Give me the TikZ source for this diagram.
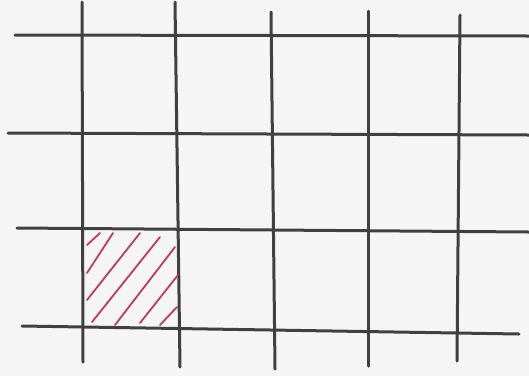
\documentclass[tikz,border=0pt]{standalone}
\begin{document}
\begin{tikzpicture}[x=1pt,y=-1pt,
  gridline/.style={line width=3pt,draw=black!75,line cap=round},
  hatchline/.style={line width=1.8pt,draw={rgb,255:red,190;green,60;blue,85},line cap=round}]
\fill[white!96!black] (0,0) rectangle (529,376);
\useasboundingbox (0,0) rectangle (529,376);
% horizontal lines
\draw[gridline] (15,35) -- (529,36);
\draw[gridline] (8,133) -- (529,135);
\draw[gridline] (17,228) -- (529,232);
\draw[gridline] (22,326) -- (519,334);
% vertical lines
\draw[gridline] (82,2) -- (83,362);
\draw[gridline] (175,2) -- (180,367);
\draw[gridline] (271,12) -- (275,369);
\draw[gridline] (368,11) -- (368,366);
\draw[gridline] (460,15) -- (457,361);
% hatching
\draw[hatchline] (87,245) -- (100,233);
\draw[hatchline] (87,273) -- (113,233);
\draw[hatchline] (87,300) -- (140,233);
\draw[hatchline] (92,322) -- (160,237);
\draw[hatchline] (115,325) -- (175,247);
\draw[hatchline] (140,323) -- (178,275);
\draw[hatchline] (160,325) -- (177,307);
\end{tikzpicture}
\end{document}
